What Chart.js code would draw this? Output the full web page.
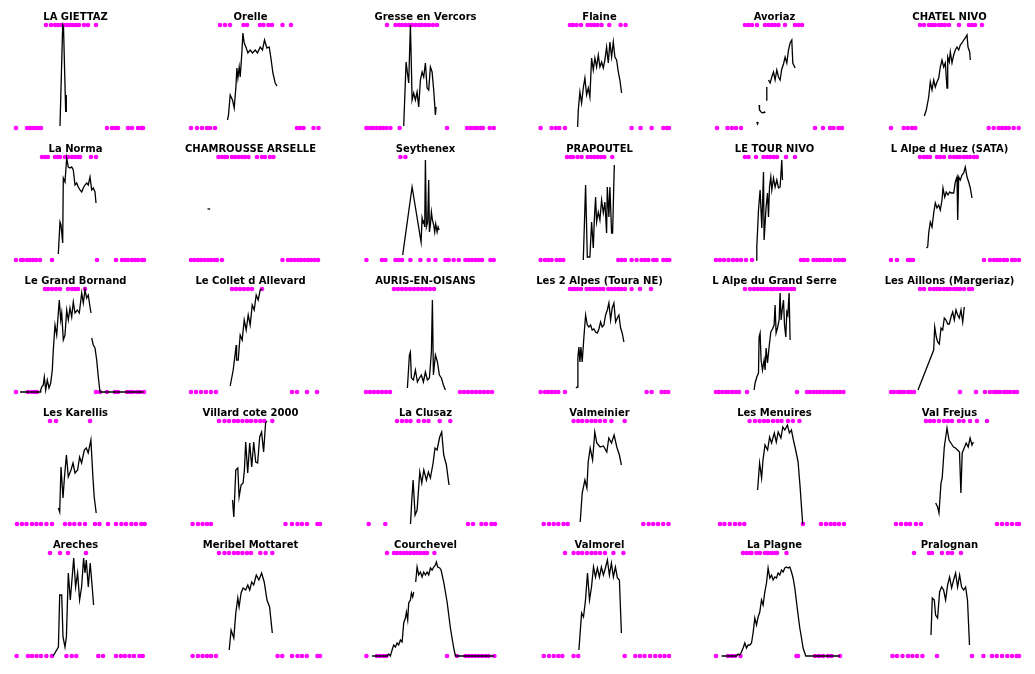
<!DOCTYPE html>
<html>
<head>
<meta charset="utf-8">
<script src="https://cdn.jsdelivr.net/npm/chart.js@4.4.1/dist/chart.umd.min.js"></script>
<style>
  html, body { margin: 0; padding: 0; background: #fff; overflow: hidden; }
  #grid { position: relative; width: 1035px; height: 674px; }
  #grid canvas { position: absolute; }
</style>
</head>
<body>
<div id="grid"></div>
<script>
/* =============================
   Snow depth per station – small multiples
   ============================= */

const stations = [
  'LA GIETTAZ', 'Orelle', 'Gresse en Vercors', 'Flaine', 'Avoriaz', 'CHATEL NIVO',
  'La Norma', 'CHAMROUSSE ARSELLE', 'Seythenex', 'PRAPOUTEL', 'LE TOUR NIVO', 'L Alpe d Huez (SATA)',
  'Le Grand Bornand', 'Le Collet d Allevard', 'AURIS-EN-OISANS', 'Les 2 Alpes (Toura NE)', 'L Alpe du Grand Serre', 'Les Aillons (Margeriaz)',
  'Les Karellis', 'Villard cote 2000', 'La Clusaz', 'Valmeinier', 'Les Menuires', 'Val Frejus',
  'Areches', 'Meribel Mottaret', 'Courchevel', 'Valmorel', 'La Plagne', 'Pralognan'
];

// [day, depth] pairs, null = gap in the record
const depthSeries = [
  [[46,2],[48.7,103],[49.5,101],[51.7,16],null,[52.3,33],[52.3,16]],
  [[38.5,8],[39.5,13],[41.2,33],[43.5,28],[45.2,20],[46.9,41],[47.9,60],[48.9,50],[50.2,61],[51.2,51],[52.9,76],[53.9,95],[55.2,85],[56.9,81],[58.9,75],[61.2,78],[63.5,75],[66.2,78],[68.5,75],[71.2,81],[73.5,78],[75.5,88],[77.9,80],[80.2,81],[81.9,70],[83.9,55],[86.2,45],[87.9,42]],
  [[39.7,2],[42.1,66],[44.7,45],[46.4,103],[47.4,61],[48.1,28],[49.7,35],[51.4,28],[53.1,36],[54.7,21],[56.4,48],[58.1,56],[59.7,51],[61.4,65],[63.1,40],[64.7,38],[66.4,61],[68.1,56],[69.7,38],[71.4,13],[72.1,21]],
  [[39.6,1],[40.3,18],[41.9,36],[43.6,25],[45.3,40],[46.9,50],[48.6,33],[50.3,40],[51.9,31],[53.6,70],[55.3,58],[56.9,70],[58.6,61],[60.3,73],[61.9,61],[63.6,66],[65.3,60],[66.9,68],[68.6,81],[70.3,65],[71.9,86],[73.6,71],[75.3,86],[76.9,71],[78.6,68],[80.3,56],[81.9,48],[83.6,35]],
  [[43.8,6],[44.5,4],[45.3,6],null,[46.1,23],[46.5,18],[48.1,16],[49.8,15],[51.5,16],[52.1,15],null,[53.1,28],[53.8,41],null,[55.5,48],[57.1,45],[58.8,51],[60.5,56],[62.1,48],[63.8,58],[65.5,51],[67.1,48],[68.8,59],[70.5,64],[72.1,71],[73.8,65],[75.5,78],[77.1,85],[78.8,88],[79.8,65],[82.1,60]],
  [[36.3,12],[38.3,18],[40.7,31],[42.3,46],[44,38],[45.7,48],[47.3,41],[49,46],[50.7,50],[52.3,61],[54,68],[55.7,61],[57.3,65],[59,40],[59.7,71],[61.3,66],[62.3,76],[64,65],[65.7,73],[67.3,78],[69,81],[70.7,78],[72.3,83],[74,85],[75.7,88],[77.3,90],[79,93],[80,81],[81.7,76],[82.3,68]],
  [[44.3,6],[46,38],[47,35],[48.7,17],[49.3,82],[51,78],[52.7,102],[54.3,93],[56,92],[57.7,93],[59.3,90],[61,75],[62.7,77],[64.3,73],[66,70],[67.7,68],[69.3,72],[71,75],[72.7,77],[74.3,75],[76,83],[77.7,70],[79.3,72],[81,68],[82,57]],
  [[18.5,51],[21.2,51]],
  [[38.7,5],[48.1,73],[57.1,18],[58.1,42],[59.1,37],[59.7,40],[60.7,33],[61.4,100],[62.4,33],[63.7,38],[64.7,80],[65.4,28],[66.4,35],[67.4,48],[68.4,40],[69.7,35],[70.7,28],[71.7,36],[73.1,28],[74.1,33],[75.1,30]],
  [[45.3,0],[47.6,75],[49.3,3],[51.9,3],[53.6,38],[55.3,12],[56.3,40],[57.6,63],[58.6,38],[60.3,48],[61.9,40],[63.6,60],[65.3,47],[66.9,58],[68.6,27],[69.3,73],[70.9,43],[71.9,73],[73.6,27],[74.6,27],[76.3,95]],
  [[43.1,0],[43.8,13],[45.5,50],[47.1,70],[48.8,32],[50.5,88],[51.1,20],[53.1,53],[54.5,67],[55.5,43],[56.5,73],[57.8,83],[58.8,70],[60.5,82],[62.1,73],[63.8,80],[65.5,72],[67.1,73],[68.8,100],[69.5,80]],
  [[38.3,12],[39.7,13],[40.7,27],[42.3,38],[44,33],[45.7,47],[47.3,57],[49,52],[50.7,55],[52.3,50],[54,60],[55,72],[56.7,63],[58.3,68],[60,65],[61.7,68],[63.3,67],[65.7,67],[67.3,78],[69,83],[69.7,40],[70.7,83],[72.3,80],[74,85],[75.7,87],[77.3,93],[79,83],[80.7,78],[82.3,72],[84,62]],
  [[6,0],[26,0],[26.7,2],[27.7,5],[29.3,7],[30.3,15],[31.7,2],[33.3,12],[35,4],[36.7,9],[38.3,22],[39.3,42],[41,67],[42.7,57],[44.3,79],[45.3,92],[46.7,72],[47.7,79],[49.3,52],[51,57],[52.7,82],[54.3,72],[56,84],[57.7,75],[59.3,90],[61,79],[63.3,82],[65.3,79],[67.7,99],[69.3,89],[71,102],[72.7,94],[74.3,97],[76,85],[77,79],null,[77.7,54],[79.3,47],[81,44],[82.7,32],[84.3,15],[86,0],[129.3,0]],
  [[41.2,6],[44.2,22],[47.2,47],[47.6,32],[49.2,32],[51.2,57],[53.2,52],[55.2,72],[57.2,62],[59.2,77],[61.2,67],[63.2,87],[65.2,82],[67.2,97],[69.2,92],[71.2,102],[73.2,103]],
  [[43.4,4],[45.4,37],[46.4,40],[47.4,14],[49.4,12],[51.4,22],[53.4,10],[55.4,14],[57.4,17],[59.4,10],[61.4,20],[63.4,12],[65.4,14],[67.4,40],[68.4,92],[69.4,17],[71.4,37],[73.4,30],[75.4,17],[77.4,14],[79.4,7],[81.4,2]],
  [[37.9,4],[39.2,5],[39.9,35],[40.9,45],[41.9,30],[42.9,45],[44.2,30],[45.9,55],[47.6,77],[49.3,67],[50.9,65],[52.6,67],[54.2,62],[55.9,63],[57.6,60],[59.3,59],[60.9,63],[62.6,70],[64.2,65],[65.9,67],[67.6,77],[69.3,82],[70.9,89],[72.6,72],[74.2,84],[75.9,89],[77.6,70],[79.3,74],[80.9,77],[82.6,64],[84.2,59],[85.9,50]],
  [[41.1,2],[42.1,9],[43.8,15],[45.5,19],[46.1,55],[47.1,59],[48.1,32],[49.5,22],[51.1,32],[52.1,22],[53.1,44],[54.5,29],[56.1,45],[57.8,60],[59.5,63],[61.1,67],[62.1,87],[63.1,59],[64.5,64],[66.1,72],[67.1,99],[68.1,72],[69.5,85],[70.5,92],[71.5,67],[72.8,55],[73.8,80],[74.8,77],[76.1,99],[77.1,52]],
  [[30,2],[45.7,42],[46.7,65],[48.3,55],[49.7,50],[51.3,48],[53,64],[54.7,62],[56.3,74],[58,72],[59.7,68],[61.3,68],[63,75],[64.7,80],[66.3,72],[68,82],[69.7,77],[71.3,74],[73,82],[74.7,70],[76.3,85]],
  [[44.4,16],[45.7,12],[47,57],[49,26],[50.4,46],[52.4,69],[54.3,47],[57,54],[59,61],[61,51],[63.6,54],[65.6,67],[67.6,61],[70.3,74],[72.3,76],[74.2,71],[76.9,84],[78.9,47],[80.2,27],[82.2,11]],
  [[43.5,24],[44.8,7],[46.8,54],[48.8,56],[50.1,27],[52.1,39],[54.1,41],[55.4,54],[56.7,82],[58.7,51],[60.7,81],[62.7,57],[64.7,82],[66.7,62],[68.6,61],[70.7,87],[72.6,92],[74.6,72],[76.6,101],[78,103]],
  [[46.5,0],[47.8,24],[49.1,44],[51.1,9],[53.1,14],[55.8,52],[57.8,41],[59.8,54],[62.4,44],[64.4,52],[66.4,46],[69.1,61],[71,76],[73.1,74],[75.7,87],[77.7,92],[79.7,69],[82.4,59],[85,39]],
  [[42.2,2],[44.2,31],[46.9,44],[48.9,36],[50.2,62],[52.2,76],[54.6,64],[56.8,92],[58.8,81],[62.1,77],[65.4,78],[68.8,72],[70.8,86],[73.5,81],[76.1,89],[78.8,77],[81.4,69],[83.4,59]],
  [[44.6,34],[46.6,61],[48.6,46],[50,64],[52,79],[54.6,74],[56.6,87],[58.6,81],[61.3,91],[63.3,82],[65.2,92],[67.9,86],[69.8,97],[71.8,94],[74.4,99],[76.4,91],[78.4,94],[80.4,84],[83.1,72],[85.1,62],[87.1,37],[89.7,0]],
  [[47.7,21],[49.6,17],[51,11],[53,41],[54.2,46],[56.3,77],[59,96],[61,84],[62.9,81],[65.5,77],[67.5,76],[69.5,74],[71.5,72],[72.9,31],[74.2,71],[76.2,76],[78.2,81],[80.2,77],[82.1,86],[84,79],[85.4,82]],
  [[39.1,0],[44.4,9],[45.7,61],[47.7,61],[49,19],[51,9],[52.4,19],[54.3,83],[56.3,56],[57.7,73],[59.7,98],[61.6,69],[63.6,83],[65.6,56],[67.6,69],[69.6,98],[71,83],[72.3,96],[74.3,69],[76.2,93],[78.2,69],[79.6,51]],
  [[40.2,6],[42.1,26],[44.8,18],[46.8,43],[48.8,58],[50.1,49],[52.1,63],[54.1,68],[56.7,66],[58.8,71],[60.7,66],[62.7,74],[64.7,71],[67.3,81],[69.9,76],[72.6,83],[75.2,74],[78,56],[80.6,49],[83.3,23]],
  [[8.1,0],[23.1,0],[24.7,2],[26.4,0],[28.1,6],[29.7,11],[31.4,9],[33.1,13],[34.7,11],[36.4,16],[38.1,14],[39.7,33],[41.4,38],[42.4,44],[43.7,36],[44.7,53],[46.4,56],[47.4,63],[48.7,59],[49.7,64],null,[51.7,74],[53.1,89],[54.7,81],[56.4,84],[58.1,79],[59.7,84],[61.4,81],[63.1,84],[64.7,81],[66.4,88],[68.1,86],[69.7,89],[71.4,91],[72.4,94],[73.7,89],[75.7,88],[77.1,86],[79.7,74],[83.1,54],[86.4,28],[89.7,8],[91.4,0],[129.7,0]],
  [[40.9,6],[43.6,43],[45.5,39],[47.5,56],[49.5,83],[51.5,56],[53.5,69],[55.5,89],[57.5,79],[59.4,88],[61.4,79],[63.4,89],[65.4,81],[67.4,88],[69.4,96],[71.4,81],[73.4,93],[75.4,79],[77.4,89],[79.4,78],[81.4,76],[83.4,23]],
  [[8.5,0],[23.5,0],[25.1,2],[26.8,1],[28.5,4],[30.1,8],[31.8,13],[33.5,8],[35.1,11],[36.8,11],[38.5,13],[40.1,23],[41.8,38],[43.5,31],[45.1,39],[46.8,44],[48.5,56],[50.1,51],[51.8,64],[53.5,73],[55.1,88],[56.8,78],[58.5,81],[60.1,76],[61.8,79],[63.5,78],[65.1,83],[66.8,81],[68.5,86],[70.1,84],[71.8,88],[73.5,89],[75.1,88],[76.8,89],[78.5,84],[80.1,78],[81.8,68],[83.5,54],[85.1,41],[86.8,28],[88.5,18],[90.1,8],[92.8,0],[126.8,0]],
  [[43,21],[44.3,58],[46.3,56],[47.6,41],[49.6,38],[51.6,64],[53.6,69],[55.6,66],[57.6,56],[59.6,71],[61.6,79],[63.6,68],[65.6,76],[67.6,83],[69.6,69],[71.6,81],[73.6,69],[75.6,66],[77.6,69],[79.5,56],[81.5,11]]
];

// days flagged at the top of each panel
const topDays = [
  [32,37,41,44,47,50,53,56,59,62,65,70,74,82],
  [31,36,41,54.5,58,71,74.5,79.5,83,93.5,102],
  [23,31.5,35,38,41.5,45,48,51.5,55,58,61.5,65,69,73],
  [32,35,38.6,43,49.6,53,56.3,59.6,63.6,71.3,82.6,87.6],
  [32,35.5,39,44,52,55.5,59,62,65.5,72,82,85.5,89],
  [32,36,41,44,47,51,54,57,61,71,81,84,87,94],
  [28,31,34,41,44,46,51,54,58,61,64,66,77,82],
  [29.5,33,36,38,43,46,49.5,53,56,59.5,68,73,76,81,84.5],
  [36.4,41.4],
  [29,32.6,35,39.6,43.6,49.6,53,56.3,59.6,63,66.3,74.3],
  [32,35.5,43,50.5,54,57,60.5,64,73,82],
  [32,36,39,42,49,52,56,62,66,69,72,76,79,82,86,89],
  [31,34,38,42,46,54,58,61,64,71],
  [43,47,51,55,59,63,73],
  [30,34,38,42,46,50,54,58,62,66,70],
  [32,34.6,37,39.6,43,48.6,52,55.3,58.6,62,65.3,70.3,73.6,77,80.3,83.6,87,93.6,102,113],
  [32,37,41,44.5,48,51,54.5,58,61,64.5,68,71,74.5,78,81],
  [32,36,42,46,49,52,56,59,62,66,69,72,76,81,84],
  [36,42,76],
  [30,35.5,40,45,49,53.4,58,62,66.7,71.3,75.3,83.3],
  [33,38,42.5,46.5,54.5,60,64.5,75.7,86.3],
  [35.6,40.2,44.2,49,53.5,57.5,62,67,73.4,86.7],
  [36.6,42,46.6,51,55,60,64.5,68.5,75,80,86.4],
  [38,42,46,51,56,60,64,71,75.5,82,89,99],
  [36,46,54,72],
  [30,35.5,40,45,49,53.4,58,62,71.3,76.6,83.3],
  [23,30,33,36.4,40,43,46.4,50,53,56.4,60,63,70.4],
  [27,35.6,40.2,44.2,49,53.5,57.5,62,67,75.4,85.4],
  [30,33.5,37,38.5,43.5,47,52,55,58.5,62,64,73.5],
  [26,41,44,54,60,64,73]
];

// days flagged at the bottom of each panel
const bottomDays = [
  [2,13,16,19,22,25,27,93,98,101,104,114,118,124,127,129],
  [2,8,13,18,21,26,108,111,114.5,124.5,129.5],
  [2.4,6,9,12.4,16,19,22.4,26.4,35.7,83,103,106.4,110,113,116.4,119,125.7,129.7],
  [2.6,13.6,18,21.3,27,93.6,102.6,113.6,125.3,128.6,131],
  [4,14.5,19,23,28,102,110,117,120.5,125.5,129],
  [3,15.7,19.7,24,27.3,100.7,105.7,110.7,114,117.3,120.7,125.7,130.7],
  [2,7,9,13,16,19,22,26,38,83,102,108,111,114,118,121,124,128,130],
  [2,5.5,9,12,15.5,19,22,25.5,28,33,93.5,99,102,105.5,109,112,115.5,119,122,125.5,129],
  [2.4,18,21.4,31.4,34.7,38,46.4,56.4,64.7,71.4,81.4,84.7,89.7,94.7,101.4,104.7,108,111.4,114.7,118,126.4,129.7],
  [2.6,7,10.3,13.6,18.6,22,25.3,80.3,83.6,87,93.6,98.6,103.6,107,110.3,115.3,118.6,125.3,128.6,131.3],
  [3,7,11,15.5,20,24,28,33,39,88,91,94.5,100.5,104,107,110.5,114,117,122,125.5,129,131],
  [3,9,20,22,25,96,102,106,109,112,116,119,124,127,131],
  [2,14,18,21,23,82,86,93,101,104,113,116,119,123,126,130],
  [2,7,12,17,22,27,103,108,118,128],
  [2,6,10,14,18,22,26,96,100,104,108,112,116,120,124,128],
  [2.6,7,10.3,13.6,17,20.3,27,108.6,113.6,123.6,127,130.3],
  [3,6,9.5,13,16,19.5,23,26,34,84,94,97,100.5,104,107,110.5,114,117,120.5,124,127,130.5],
  [3,6,10,13,16,20,23,26,72,88,97,102,106,109,112,116,119,122,126,129],
  [3,8,12.5,18,22.5,27,32.4,38,51,55.7,60.3,65.6,71,81,85.5,94,102,107.4,112,117.4,122,127.3,130.7],
  [3.6,9,13.6,18,22,96.5,103,108.5,113,118,128.4,131],
  [4.7,21.3,104,109,117.5,122,127.4,131],
  [5.7,11,15.7,20.3,25.6,29.7,105.3,110.6,115.2,120,125.2,130.5],
  [7,11.4,16.8,22,26.7,31.3,90,108,113,117.6,121.6,126,131],
  [8,13,18,22,28,33,109,114,119,124,129,131],
  [2.6,14,18,22.5,27,32.4,38,52.4,57.7,62.3,84.2,89,102,106.8,110.8,115.4,120,125.4,128.7],
  [3.6,9,13.6,18,22,27,88.6,93.2,103,108.5,113,117.8,128.4,131],
  [2.4,13,16.4,19.7,22.4,83,93,101.4,104.7,108,111.4,114.7,118,121.4,124.7,130.4],
  [5.7,11,15.7,20.3,24.3,35.6,40.2,86.7,97.3,102,106.6,112,117.2,122,126.5,131],
  [3,15,18.5,22,27.5,83.5,85,102,106,110,115,118.5,127],
  [4.5,9,14.5,20,24.4,29,34.4,49,84,95.4,104,108.7,114,119.3,124,128.6,131]
];

const DAY_MIN = -9, DAY_MAX = 132;
const DEPTH_MAX = 103;
const COLS = 6;
const COL_STEP = 174.8, ROW_STEP = 132;
const MAGENTA = '#ff00ff';

function toPoints(pairs) {
  const pts = [];
  pairs.forEach((p, i) => {
    if (p === null) {
      const prev = pairs[i - 1];
      pts.push({ x: prev[0], y: null });
    } else {
      pts.push({ x: p[0], y: p[1] });
    }
  });
  return pts;
}

function renderPanel(i) {
  const col = i % COLS, row = Math.floor(i / COLS);
  const canvas = document.createElement('canvas');
  canvas.width = 161;
  canvas.height = 132;
  canvas.style.left = (col * COL_STEP) + 'px';
  canvas.style.top = (row * ROW_STEP) + 'px';
  document.getElementById('grid').appendChild(canvas);

  new Chart(canvas, {
    type: 'line',
    data: {
      datasets: [
        {
          data: toPoints(depthSeries[i]),
          borderColor: '#000',
          borderWidth: 1.3,
          pointRadius: 0,
          tension: 0,
          clip: false
        },
        {
          type: 'scatter',
          data: topDays[i].map(d => ({ x: d, y: DEPTH_MAX })),
          backgroundColor: MAGENTA,
          borderWidth: 0,
          pointRadius: 2.3,
          clip: false
        },
        {
          type: 'scatter',
          data: bottomDays[i].map(d => ({ x: d, y: 0 })),
          backgroundColor: MAGENTA,
          borderWidth: 0,
          pointRadius: 2.3,
          clip: false
        }
      ]
    },
    options: {
      responsive: false,
      animation: false,
      layout: { padding: { left: 5, right: 15, top: 0, bottom: 4 } },
      scales: {
        x: { type: 'linear', min: DAY_MIN, max: DAY_MAX, display: false },
        y: { min: 0, max: DEPTH_MAX, display: false }
      },
      plugins: {
        legend: { display: false },
        tooltip: { enabled: false },
        title: {
          display: true,
          text: stations[i],
          color: '#000',
          font: { family: 'DejaVu Sans', size: 10, weight: 'bold', lineHeight: 1.2 },
          padding: { top: 11, bottom: 2 }
        }
      }
    }
  });
}

stations.forEach((_, i) => renderPanel(i));
</script>
</body>
</html>
